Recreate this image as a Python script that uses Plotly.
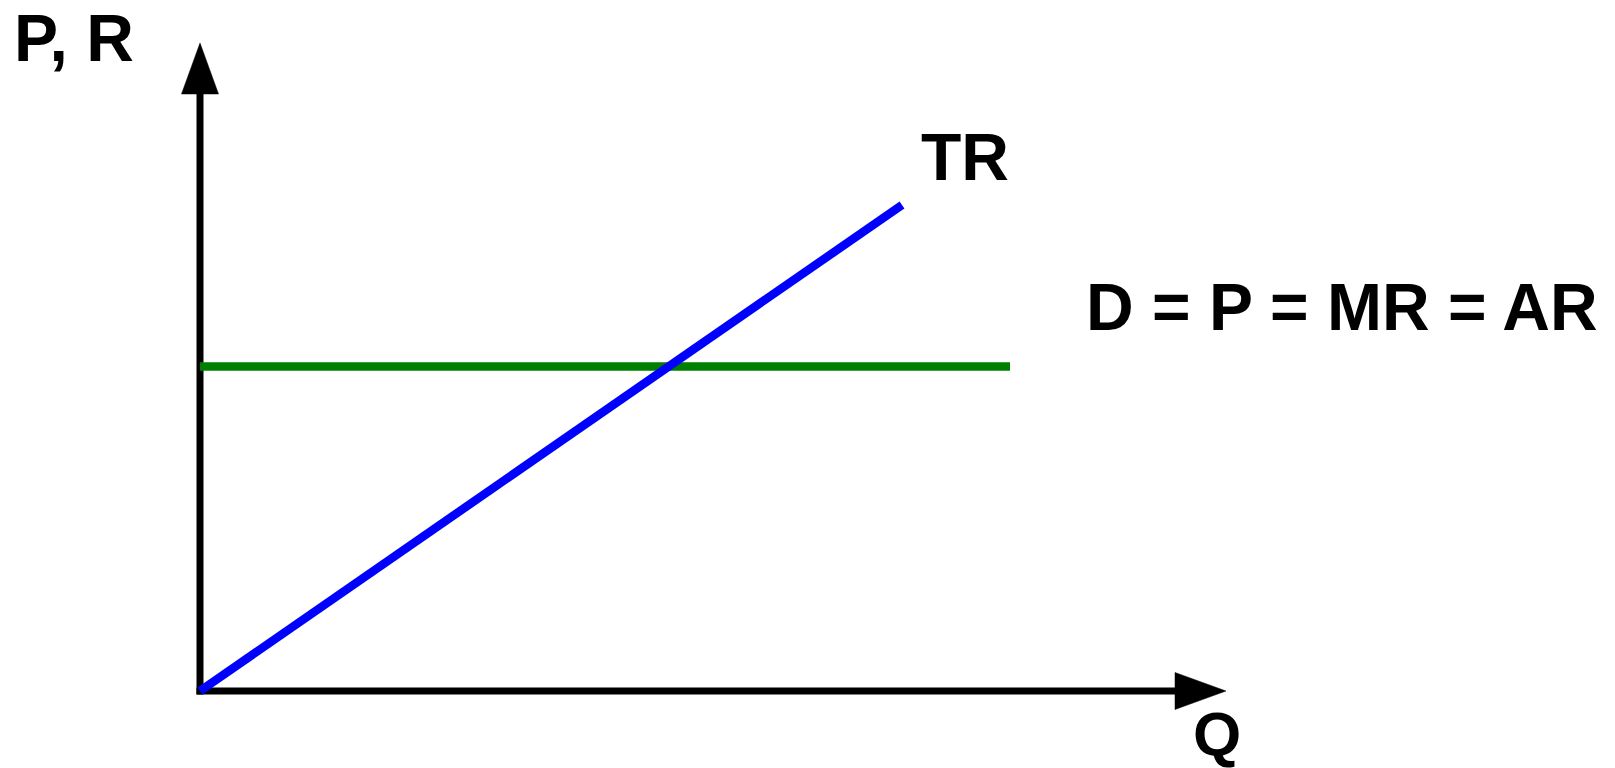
import plotly.graph_objects as go

# Perfect competition: total revenue and the flat demand / price line
q_tr = [0, 7.02]
tr = [0, 4.86]

q_demand = [0, 8.1]
price = [3.245, 3.245]

# axis extents (arrow tips), in chart units
Q_MAX = 10.26
P_MAX = 6.48

HEAD_LEN = 0.51
HEAD_HALF = 0.185

FONT = "Arial"


def arrow_head(tip_x, tip_y, vertical):
    # filled triangle pointing along the axis
    if vertical:
        xs = [tip_x, tip_x - HEAD_HALF, tip_x + HEAD_HALF, tip_x]
        ys = [tip_y, tip_y - HEAD_LEN, tip_y - HEAD_LEN, tip_y]
    else:
        xs = [tip_x, tip_x - HEAD_LEN, tip_x - HEAD_LEN, tip_x]
        ys = [tip_y, tip_y - HEAD_HALF, tip_y + HEAD_HALF, tip_y]
    return go.Scatter(x=xs, y=ys, mode="lines", fill="toself",
                      fillcolor="black", line=dict(color="black", width=0.5),
                      hoverinfo="skip")


fig = go.Figure()

# axes
fig.add_trace(go.Scatter(x=[0, 0], y=[-0.035, P_MAX - HEAD_LEN + 0.05], mode="lines",
                         line=dict(color="black", width=7), hoverinfo="skip"))
fig.add_trace(go.Scatter(x=[-0.035, Q_MAX - HEAD_LEN + 0.05], y=[0, 0], mode="lines",
                         line=dict(color="black", width=7), hoverinfo="skip"))
fig.add_trace(arrow_head(0, P_MAX, vertical=True))
fig.add_trace(arrow_head(Q_MAX, 0, vertical=False))

# demand = price = MR = AR
fig.add_trace(go.Scatter(x=q_demand, y=price, mode="lines",
                         line=dict(color="#008000", width=8.5), name="D"))
# total revenue
fig.add_trace(go.Scatter(x=q_tr, y=tr, mode="lines",
                         line=dict(color="#0000ff", width=8.5), name="TR"))

labels = [
    ("P, R", -1.265, 6.535, 66),
    ("TR", 7.65, 5.345, 66),
    ("D = P = MR = AR", 11.42, 3.84, 66),
    ("Q", 10.17, -0.42, 62),
]
for text, x, y, size in labels:
    fig.add_annotation(x=x, y=y, xref="x", yref="y", text=f"<b>{text}</b>", showarrow=False,
                       xanchor="center", yanchor="middle",
                       font=dict(family=FONT, size=size, color="black"))

fig.update_layout(
    width=1615,
    height=768,
    margin=dict(l=0, r=0, t=0, b=0),
    paper_bgcolor="white",
    plot_bgcolor="white",
    showlegend=False,
)
fig.update_xaxes(range=[-2.0, 14.15], visible=False)
fig.update_yaxes(range=[-0.77, 6.91], visible=False)

fig.write_html("out.html", config={"displayModeBar": False},
               post_script="document.body.style.margin='0';")
